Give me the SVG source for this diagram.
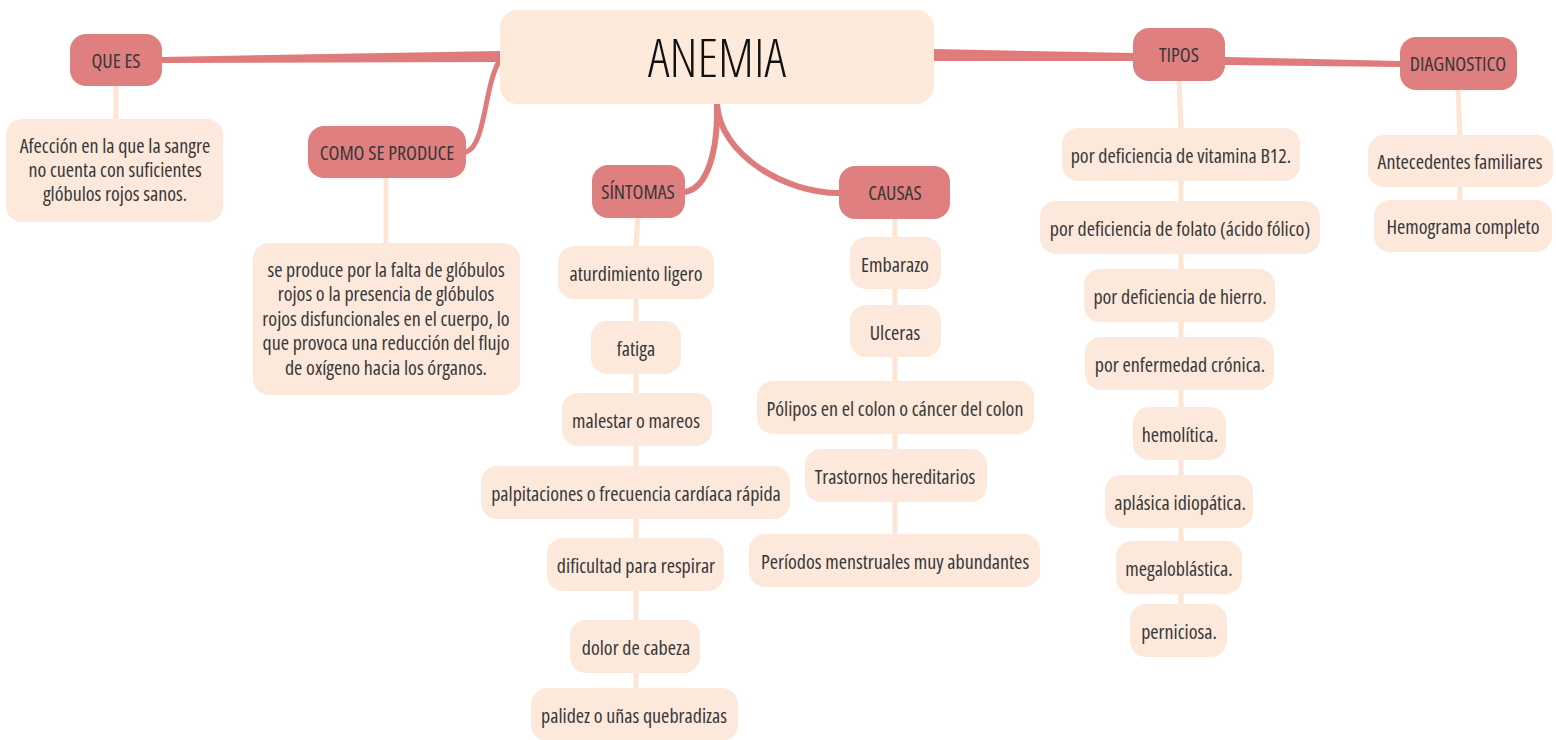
<svg xmlns="http://www.w3.org/2000/svg" width="1556" height="740" viewBox="0 0 1556 740">
<style>
.br{fill:#e07f80}
.lf{fill:#fde9dc}
.root{fill:#feeadb}
.t{font-family:"Open Sans","Liberation Sans",sans-serif;font-stretch:condensed;font-size:20px;fill:#383838;text-anchor:middle}
.rt{font-family:"Open Sans","Liberation Sans",sans-serif;font-stretch:condensed;font-weight:300;font-size:53px;fill:#111;text-anchor:middle}
.dk{fill:none;stroke:#e07b7b;stroke-linecap:round}
.lt{fill:none;stroke:#fde5d6;stroke-width:5}
</style>
<g id="connectors">
<polygon points="500,51 500,62 162,63 162,57" fill="#e07b7b"/>
<path class="dk" d="M466,152 C486,146 484,84 500,60" stroke-width="5"/>
<path class="dk" d="M717,104 C718,150 708,188 685,192" stroke-width="6"/>
<path class="dk" d="M717,104 C720,155 785,193 839,193" stroke-width="6"/>
<polygon points="934,49 934,61 1135,61 1135,53" fill="#e07b7b"/>
<polygon points="1225,57 1225,65 1400,67 1400,61" fill="#e07b7b"/>
<path class="lt" d="M116,86 L116,119"/>
<path class="lt" d="M386,178 L386,243"/>
<path class="lt" d="M638,218 L636,246 M636,299 L636,321 M636,374 L636,393 M636,446 L636,466 M636,519 L636,538 M636,591 L636,620 M636,673 L636,688"/>
<path class="lt" d="M895,219 L895,237 M895,289 L895,305 M895,357 L895,381 M895,434 L895,449 M895,502 L895,534"/>
<path class="lt" d="M1179,81 L1181,128 M1181,181 L1181,201 M1181,254 L1181,269 M1181,322 L1181,337 M1181,390 L1181,407 M1181,460 L1181,475 M1181,528 L1181,541 M1181,594 L1181,604"/>
<path class="lt" d="M1458,90 L1460,135 M1460,187 L1460,200"/>
</g>
<g id="anemia"><rect class="root" x="500" y="10" width="434" height="94" rx="18"/><text class="rt" x="717" y="77">ANEMIA</text></g>
<g id="que-es"><rect class="br" x="70" y="34" width="92" height="52" rx="16"/><text class="t" x="116" y="68">QUE ES</text></g>
<g id="afeccion"><rect class="lf" x="6" y="119" width="217" height="103" rx="16"/><text class="t" x="115" y="153">Afección en la que la sangre</text><text class="t" x="115" y="177">no cuenta con suficientes</text><text class="t" x="115" y="201">glóbulos rojos sanos.</text></g>
<g id="como"><rect class="br" x="308" y="126" width="158" height="52" rx="16"/><text class="t" x="387" y="160">COMO SE PRODUCE</text></g>
<g id="se-produce"><rect class="lf" x="253" y="243" width="267" height="152" rx="16"/><text class="t" x="386" y="277">se produce por la falta de glóbulos</text><text class="t" x="386" y="301">rojos o la presencia de glóbulos</text><text class="t" x="386" y="326">rojos disfuncionales en el cuerpo, lo</text><text class="t" x="386" y="350">que provoca una reducción del flujo</text><text class="t" x="386" y="375">de oxígeno hacia los órganos.</text></g>
<g id="sintomas"><rect class="br" x="592" y="165" width="93" height="53" rx="16"/><text class="t" x="638" y="199">SÍNTOMAS</text></g>
<g id="s1"><rect class="lf" x="558" y="246" width="156" height="53" rx="16"/><text class="t" x="636" y="281">aturdimiento ligero</text></g>
<g id="s2"><rect class="lf" x="591" y="321" width="90" height="53" rx="16"/><text class="t" x="636" y="356">fatiga</text></g>
<g id="s3"><rect class="lf" x="562" y="393" width="150" height="53" rx="16"/><text class="t" x="636" y="428">malestar o mareos</text></g>
<g id="s4"><rect class="lf" x="481" y="466" width="309" height="53" rx="16"/><text class="t" x="636" y="501">palpitaciones o frecuencia cardíaca rápida</text></g>
<g id="s5"><rect class="lf" x="547" y="538" width="177" height="53" rx="16"/><text class="t" x="636" y="573">dificultad para respirar</text></g>
<g id="s6"><rect class="lf" x="570" y="620" width="130" height="53" rx="16"/><text class="t" x="636" y="655">dolor de cabeza</text></g>
<g id="s7"><rect class="lf" x="531" y="688" width="207" height="53" rx="16"/><text class="t" x="634" y="723">palidez o uñas quebradizas</text></g>
<g id="causas"><rect class="br" x="839" y="166" width="111" height="53" rx="16"/><text class="t" x="895" y="200">CAUSAS</text></g>
<g id="c1"><rect class="lf" x="850" y="237" width="91" height="52" rx="16"/><text class="t" x="895" y="272">Embarazo</text></g>
<g id="c2"><rect class="lf" x="850" y="305" width="91" height="52" rx="16"/><text class="t" x="895" y="340">Ulceras</text></g>
<g id="c3"><rect class="lf" x="757" y="381" width="277" height="53" rx="16"/><text class="t" x="895" y="416">Pólipos en el colon o cáncer del colon</text></g>
<g id="c4"><rect class="lf" x="805" y="449" width="182" height="53" rx="16"/><text class="t" x="895" y="484">Trastornos hereditarios</text></g>
<g id="c5"><rect class="lf" x="749" y="534" width="291" height="53" rx="16"/><text class="t" x="895" y="569">Períodos menstruales muy abundantes</text></g>
<g id="tipos"><rect class="br" x="1133" y="28" width="92" height="53" rx="16"/><text class="t" x="1179" y="62">TIPOS</text></g>
<g id="t1"><rect class="lf" x="1062" y="128" width="238" height="53" rx="16"/><text class="t" x="1181" y="163">por deficiencia de vitamina B12.</text></g>
<g id="t2"><rect class="lf" x="1040" y="201" width="280" height="53" rx="16"/><text class="t" x="1180" y="236">por deficiencia de folato (ácido fólico)</text></g>
<g id="t3"><rect class="lf" x="1084" y="269" width="191" height="53" rx="16"/><text class="t" x="1180" y="304">por deficiencia de hierro.</text></g>
<g id="t4"><rect class="lf" x="1085" y="337" width="189" height="53" rx="16"/><text class="t" x="1180" y="372">por enfermedad crónica.</text></g>
<g id="t5"><rect class="lf" x="1133" y="407" width="93" height="53" rx="16"/><text class="t" x="1180" y="442">hemolítica.</text></g>
<g id="t6"><rect class="lf" x="1105" y="475" width="148" height="53" rx="16"/><text class="t" x="1180" y="510">aplásica idiopática.</text></g>
<g id="t7"><rect class="lf" x="1116" y="541" width="126" height="53" rx="16"/><text class="t" x="1179" y="576">megaloblástica.</text></g>
<g id="t8"><rect class="lf" x="1130" y="604" width="97" height="53" rx="16"/><text class="t" x="1179" y="639">perniciosa.</text></g>
<g id="diagnostico"><rect class="br" x="1400" y="37" width="117" height="53" rx="16"/><text class="t" x="1458" y="71">DIAGNOSTICO</text></g>
<g id="d1"><rect class="lf" x="1368" y="135" width="185" height="52" rx="16"/><text class="t" x="1460" y="169">Antecedentes familiares</text></g>
<g id="d2"><rect class="lf" x="1374" y="200" width="178" height="52" rx="16"/><text class="t" x="1463" y="234">Hemograma completo</text></g>
</svg>
